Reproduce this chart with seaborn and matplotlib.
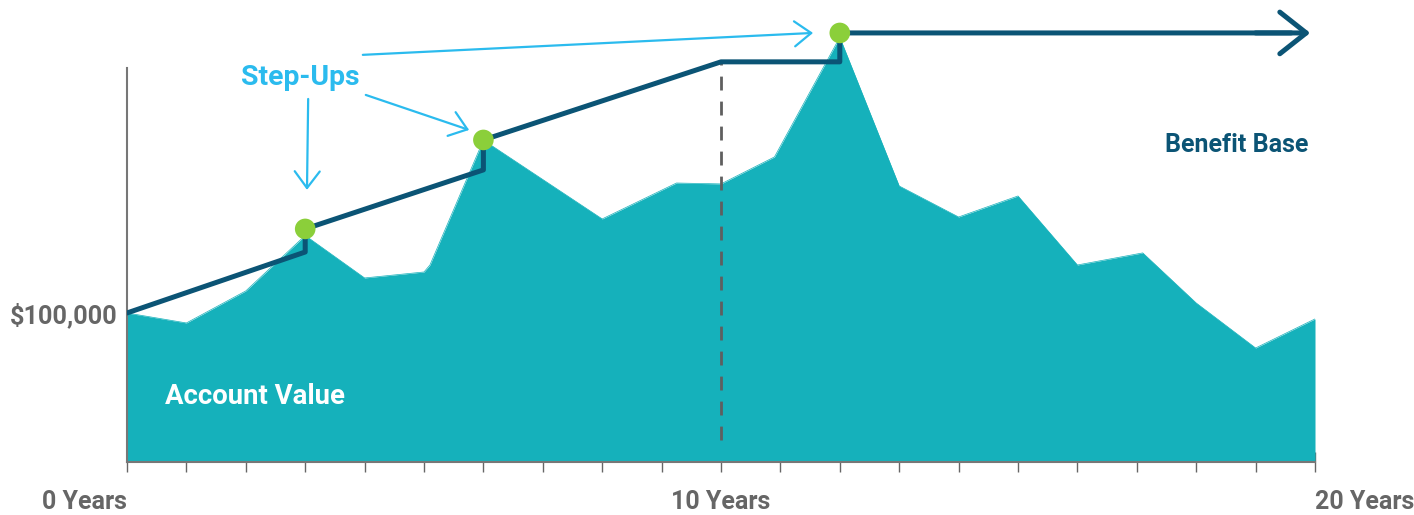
import matplotlib
matplotlib.use("Agg")
import matplotlib.pyplot as plt
import seaborn as sns
import pandas as pd

# Account value (thousands of $) over years
account_years = [0, 1, 2, 3, 4, 5, 5.1, 6, 8, 9.25, 10, 10.9, 12, 13, 14, 15, 16, 17.1, 18, 19, 20]
account_values = [100, 93.3, 114.8, 152, 123.5, 127.5, 132.2, 216, 163.1, 187.2, 186.6, 204.7, 285,
                  185.2, 164.4, 178.5, 132.2, 140.3, 106.7, 76.5, 96.0]

# Benefit base path (vertical steps at the step-ups)
base_years = [0, 3, 3, 6, 6, 10, 12, 12, 19.6]
base_values = [100, 140.9, 156.4, 196.0, 216.1, 268.5, 268.5, 287.9, 287.9]

# Step-up points
step_years = [3, 6, 12]
step_values = [156.4, 216.1, 287.9]

xtick_labels = {0: "0 Years", 10: "10 Years", 20: "20 Years"}

TEAL = "#15b1bb"
NAVY = "#0b5475"
GREEN = "#8bcf3a"
SKY = "#2bbbee"
GRAY = "#666666"

sns.set_theme(style="white")
plt.rcParams["font.family"] = ["Roboto", "DejaVu Sans"]

fig = plt.figure(figsize=(14.14, 5.15), dpi=100)
ax = fig.add_axes([127 / 1414, 53 / 515, 1188 / 1414, 462 / 515])

acc = pd.DataFrame({"year": account_years, "value": account_values})
base = pd.DataFrame({"year": base_years, "value": base_values})

# account value area
ax.fill_between(acc["year"], acc["value"], 0, color=TEAL, lw=0, zorder=1)
sns.lineplot(data=acc, x="year", y="value", color=TEAL, lw=0.5, ax=ax, zorder=1)

# 10 year marker
ax.plot([10, 10], [14.8, 268.5], color="#5f5f5f", lw=2, dashes=(5, 4), zorder=2)

# benefit base
sns.lineplot(data=base, x="year", y="value", estimator=None, sort=False,
             color=NAVY, lw=3.6, ax=ax, zorder=3)
ax.annotate("", xy=(19.92, 287.9), xytext=(19.0, 287.9),
            arrowprops=dict(arrowstyle="->,head_length=0.95,head_width=0.75",
                            color=NAVY, lw=3.6, shrinkA=0, shrinkB=0,
                            mutation_scale=20), zorder=3)

sns.scatterplot(x=step_years, y=step_values, color=GREEN, s=220, edgecolor="none",
                ax=ax, zorder=4, clip_on=False)

# step-up callouts
ax.text(2.91, 257.7, "Step-Ups", color=SKY, fontsize=20.4, fontweight="bold",
        ha="center", va="center")
arrow_kw = dict(arrowstyle="->,head_length=0.6,head_width=0.45", color=SKY, lw=1.6,
                shrinkA=0, shrinkB=0, mutation_scale=20)
ax.annotate("", xy=(3.03, 182.6), xytext=(3.05, 243.6), arrowprops=arrow_kw)
ax.annotate("", xy=(5.76, 222.8), xytext=(4.02, 246.3), arrowprops=arrow_kw)
ax.annotate("", xy=(11.55, 287.9), xytext=(3.97, 273.2), arrowprops=arrow_kw)

ax.text(0.64, 44.0, "Account Value", color="white", fontsize=19.8, fontweight="bold",
        ha="left", va="center", zorder=5)
ax.text(18.69, 212.8, "Benefit Base", color=NAVY, fontsize=18, fontweight="bold",
        ha="center", va="center")

ax.set_xlim(0, 20)
ax.set_ylim(0, 310)
ax.set_xlabel("")
ax.set_ylabel("")
ax.set_xticks(range(21))
ax.set_xticklabels([xtick_labels.get(i, "") for i in range(21)])
ax.set_yticks([100])
ax.set_yticklabels(["$100,000"])
ax.tick_params(axis="x", direction="inout", length=14, width=1, color=GRAY,
               labelsize=18, labelcolor=GRAY, pad=13, bottom=True)
ax.tick_params(axis="y", length=0, labelsize=18.2, labelcolor=GRAY, pad=7)
for lbl in ax.get_xticklabels() + ax.get_yticklabels():
    lbl.set_fontweight("bold")
xlbls = ax.get_xticklabels()
xlbls[0].set_ha("right")
xlbls[20].set_ha("left")

for side in ["top", "right"]:
    ax.spines[side].set_visible(False)
ax.spines["left"].set_color("#777777")
ax.spines["bottom"].set_color("#777777")
ax.spines["left"].set_linewidth(1.5)
ax.spines["bottom"].set_linewidth(1.5)
ax.spines["left"].set_bounds(0, 264.4)
ax.set_facecolor("none")

fig.savefig("out.png", dpi=100, facecolor="white")
